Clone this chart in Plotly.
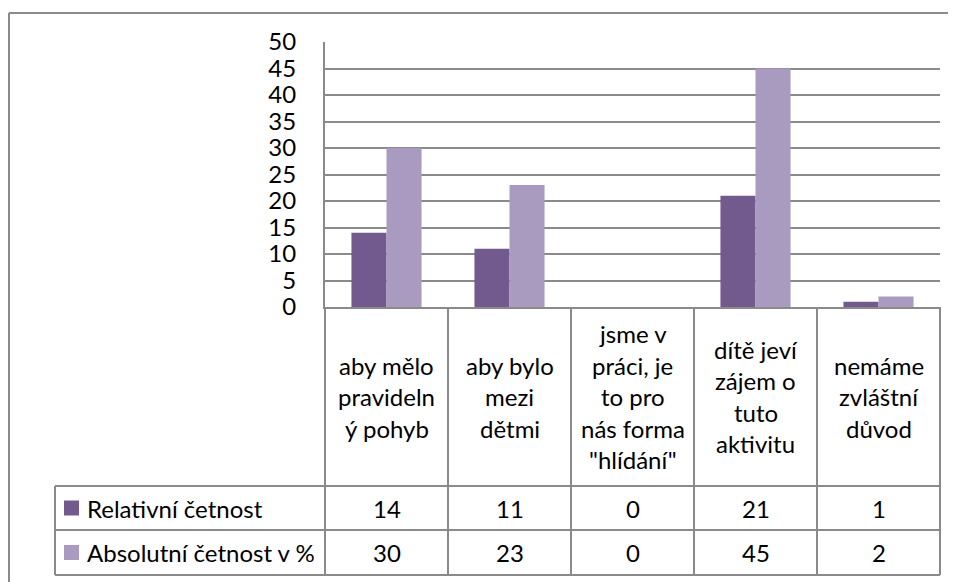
import plotly.graph_objects as go

categories = [
    "aby mělo<br>pravideln<br>ý pohyb",
    "aby bylo<br>mezi<br>dětmi",
    "jsme v<br>práci, je<br>to pro<br>nás forma<br>\"hlídání\"",
    "dítě jeví<br>zájem o<br>tuto<br>aktivitu",
    "nemáme<br>zvláštní<br>důvod",
]
relativni = [14, 11, 0, 21, 1]
absolutni = [30, 23, 0, 45, 2]
series_names = ["Relativní četnost", "Absolutní četnost v %"]
colors = ["#725A8F", "#A99BBF"]

# page body has an 8px margin, so figure coords = screen coords - 8
OFF = 8
W, H = 956 - OFF, 582 - OFF
L, R, T, B = 325, 940, 42, 307
FONT = "Lato"
FS = 24
GRID = "#8A8A8A"


def px(x):
    return (x - L) / (R - L)


def py(y):
    return (B - y) / (B - T)


fig = go.Figure()
for name, vals, col in zip(series_names, [relativni, absolutni], colors):
    fig.add_trace(go.Bar(name=name, x=categories, y=vals, marker_color=col,
                         marker_line_width=0, showlegend=False))

shapes = []
line = dict(color=GRID, width=2)
# outer chart border (cropped on right / bottom)
shapes.append(dict(type="line", xref="paper", yref="paper", x0=px(9), x1=px(960), y0=py(13), y1=py(13), line=line))
shapes.append(dict(type="line", xref="paper", yref="paper", x0=px(9), x1=px(9), y0=py(13), y1=py(590), line=line))

# data table grid
row_y = [486, 530, 575]
n = len(categories)
for i in range(n + 1):
    shapes.append(dict(type="line", xref="paper", yref="paper", x0=i / n, x1=i / n,
                       y0=py(B), y1=py(row_y[-1]), line=line))
for y in row_y:
    shapes.append(dict(type="line", xref="paper", yref="paper", x0=px(55), x1=1,
                       y0=py(y), y1=py(y), line=line))
shapes.append(dict(type="line", xref="paper", yref="paper", x0=px(55), x1=px(55),
                   y0=py(row_y[0]), y1=py(row_y[-1]), line=line))

annotations = []
txt = dict(family=FONT, size=FS, color="#000000")
# header labels, line by line
for cat in categories:
    lines = cat.split("<br>")
    for j, ln in enumerate(lines):
        yc = 396.5 + (j - (len(lines) - 1) / 2) * 31.5
        annotations.append(dict(x=cat, y=py(yc), xref="x", yref="paper", text=ln,
                                showarrow=False, font=txt, xanchor="center", yanchor="middle"))

# rows: legend key + name + values
for k, (name, vals, col) in enumerate(zip(series_names, [relativni, absolutni], colors)):
    yc = (row_y[k] + row_y[k + 1]) / 2
    shapes.append(dict(type="rect", xref="paper", yref="paper", x0=px(64), x1=px(79),
                       y0=py(yc - 7.5), y1=py(yc + 7.5), fillcolor=col, line=dict(width=0)))
    annotations.append(dict(x=px(85), y=py(yc), xref="paper", yref="paper", text=name,
                            showarrow=False, font=txt, xanchor="left", yanchor="middle"))
    for cat, v in zip(categories, vals):
        annotations.append(dict(x=cat, y=py(yc), xref="x", yref="paper", text=str(v),
                                showarrow=False, font=txt, xanchor="center", yanchor="middle"))

fig.update_layout(
    width=W, height=H,
    margin=dict(l=L - OFF, r=956 - R, t=T - OFF, b=582 - B, pad=0),
    paper_bgcolor="white", plot_bgcolor="white",
    barmode="group", bargap=0.43, bargroupgap=0,
    font=dict(family=FONT, size=FS, color="#000000"),
    shapes=shapes, annotations=annotations,
)
fig.update_xaxes(showticklabels=False, showgrid=False, showline=True, linecolor=GRID,
                 linewidth=2, zeroline=False, ticks="")
fig.update_yaxes(range=[0, 50], dtick=5, showgrid=True, gridcolor=GRID, gridwidth=2,
                 showline=True, linecolor=GRID, linewidth=2, zeroline=False, ticks="",
                 ticklabelstandoff=22, tickfont=dict(family=FONT, size=FS))

fig.write_html("out.html")
